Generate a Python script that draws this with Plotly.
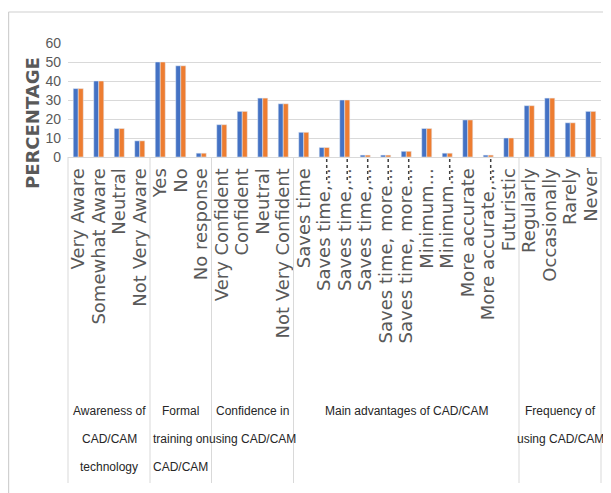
import plotly.graph_objects as go

# ---- data ----
categories = [
    "Very Aware", "Somewhat Aware", "Neutral", "Not Very Aware",
    "Yes", "No", "No response",
    "Very Confident", "Confident", "Neutral", "Not Very Confident",
    "Saves time", "Saves time,...", "Saves time,...", "Saves time,...",
    "Saves time, more...", "Saves time, more...", "Minimum...", "Minimum...",
    "More accurate", "More accurate,...", "Futuristic",
    "Regularly", "Occasionally", "Rarely", "Never",
]
series1 = [36, 40, 15, 8.5,
           50, 48, 2,
           17, 24, 31, 28,
           13, 5, 30, 1, 1, 3, 15, 2, 19.5, 1, 10,
           27, 31, 18, 24]
series2 = [36, 40, 15, 8.5,
           50, 48, 2,
           17, 24, 31, 28,
           13, 5, 30, 1, 1, 3, 15, 2, 19.5, 1, 10,
           27, 31, 18, 24]
group_lines = [
    ["Awareness of", "CAD/CAM", "technology"],
    ["Formal", "training on", "CAD/CAM"],
    ["Confidence in", "using CAD/CAM"],
    ["Main advantages of CAD/CAM"],
    ["Frequency of", "using CAD/CAM"],
]
group_sizes = [4, 3, 4, 11, 4]
y_ticks = [0, 10, 20, 30, 40, 50, 60]
dotted_marks = [12, 13, 14, 15, 16, 18, 20]

# ---- style ----
BLUE = "#4472C4"
ORANGE = "#ED7D31"
GRID = "#d9d9d9"
TXT = "#595959"
OFF = 8                      # default page body margin
W, H = 611 - OFF, 493 - OFF
ML, MT = 68 - OFF, 43 - OFF
PLOT_R, PLOT_B = 601 - OFF, 157 - OFF
MR, MB = W - PLOT_R, H - PLOT_B
PH = PLOT_B - MT
PW = PLOT_R - ML

xs = list(range(len(categories)))

fig = go.Figure()
fig.add_trace(go.Bar(x=xs, y=series1, marker_color=BLUE, name="Series1"))
fig.add_trace(go.Bar(x=xs, y=series2, marker_color=ORANGE, name="Series2"))

shapes = []
annotations = []


def py(page_y):
    """page pixel y -> paper y"""
    return (PLOT_B - (page_y - OFF)) / PH


def px(page_x):
    """page pixel x -> paper x"""
    return ((page_x - OFF) - ML) / PW


# group dividers + labels
n = len(categories)
start = 0
bounds = [0]
for gi, size in enumerate(group_sizes):
    center = start + (size - 1) / 2
    for li, line in enumerate(group_lines[gi]):
        annotations.append(dict(
            x=center, xref="x", y=py(411 + 28 * li), yref="paper",
            text=line, showarrow=False,
            font=dict(family="Liberation Sans Narrow, Liberation Sans, Arial, sans-serif",
                      size=12, color="#262626"),
            xanchor="center", yanchor="middle",
        ))
    start += size
    bounds.append(start)

for b in bounds:
    xp = b / n
    shapes.append(dict(type="line", xref="paper", yref="paper",
                       x0=xp, x1=xp, y0=0, y1=py(483),
                       line=dict(color=GRID, width=1)))

# dotted marks under truncated labels
for i in dotted_marks:
    shapes.append(dict(type="line", xref="x", yref="paper",
                       x0=i + 0.12, x1=i + 0.12,
                       y0=py(159), y1=py(183),
                       line=dict(color="#404040", width=1.5, dash="dot")))

# outer frame
shapes.append(dict(type="line", xref="paper", yref="paper",
                   x0=px(8.5), x1=1.2, y0=py(12), y1=py(12),
                   line=dict(color="#d0d0d0", width=1.2)))
shapes.append(dict(type="line", xref="paper", yref="paper",
                   x0=px(8.6), x1=px(8.6), y0=py(12), y1=py(500),
                   line=dict(color="#d0d0d0", width=1.2)))

# y-axis title
annotations.append(dict(
    x=px(32), xref="paper", y=py(123), yref="paper",
    text="<b>PERCENTAGE</b>", showarrow=False, textangle=-90,
    font=dict(family="DejaVu Sans, sans-serif", size=18, color=TXT),
    xanchor="center", yanchor="middle",
))

fig.update_layout(
    width=W, height=H, autosize=False,
    margin=dict(l=ML, r=MR, t=MT, b=MB, pad=0),
    paper_bgcolor="white", plot_bgcolor="white",
    barmode="group", bargap=0.51, bargroupgap=0,
    showlegend=False,
    shapes=shapes, annotations=annotations,
)
fig.update_xaxes(
    range=[-0.5, n - 0.5], tickmode="array", tickvals=xs, ticktext=categories,
    tickangle=-90, showgrid=False, zeroline=False,
    showline=True, linecolor=GRID, linewidth=1,
    ticks="", ticklabelstandoff=3,
    tickfont=dict(family="DejaVu Sans, sans-serif", size=18, color=TXT),
)
fig.update_yaxes(
    range=[0, 60], tickmode="array", tickvals=y_ticks,
    showgrid=True, gridcolor=GRID, gridwidth=1.3,
    zeroline=False, showline=False, ticks="", ticklabelstandoff=6,
    tickfont=dict(family="Liberation Sans Narrow, Liberation Sans, Arial, sans-serif",
                  size=14, color=TXT),
)

fig.write_html("out.html")
